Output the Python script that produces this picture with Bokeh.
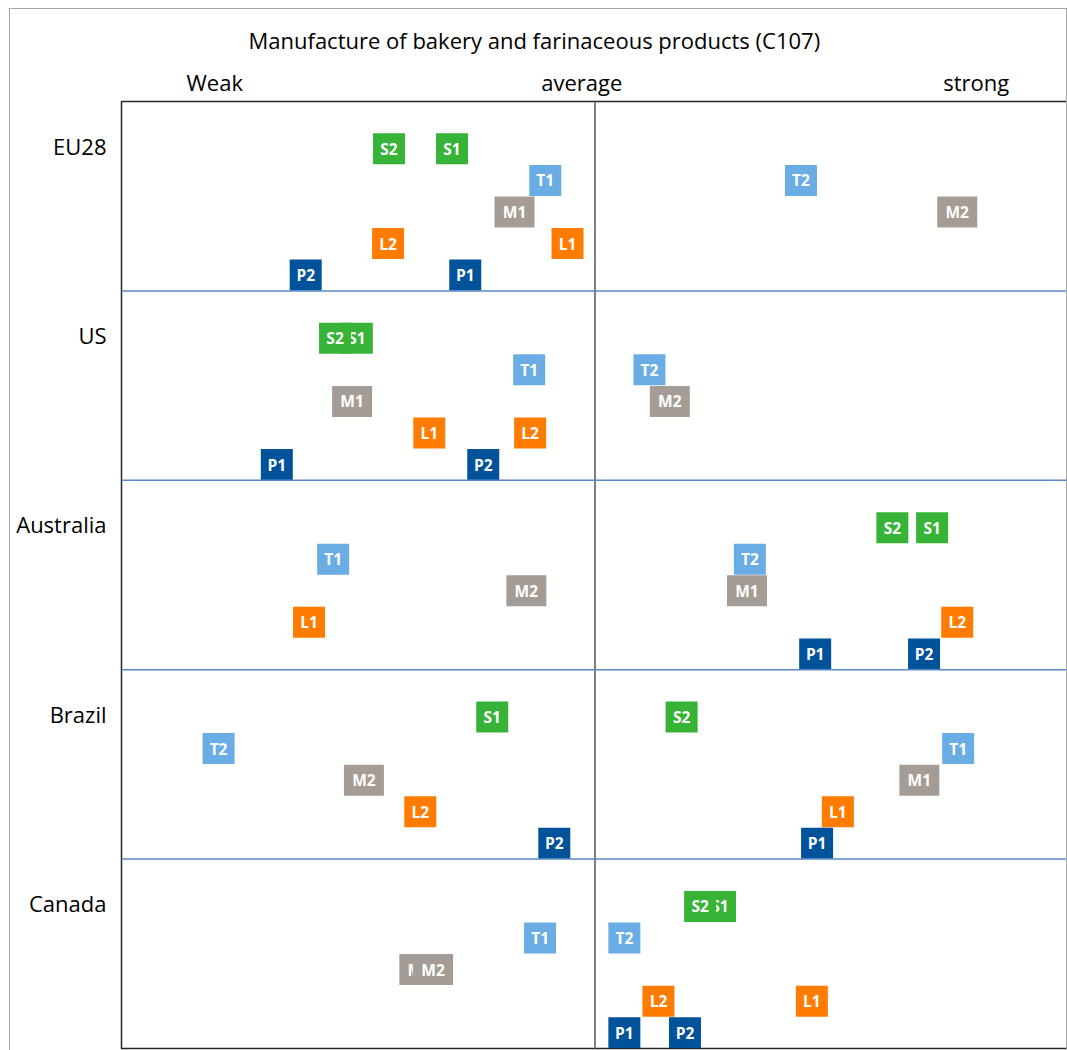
from bokeh.plotting import figure
from bokeh.models import Range1d, Span, ColumnDataSource, LinearAxis, FixedTicker
from bokeh.embed import file_html
from bokeh.resources import INLINE
from bokeh.core.properties import value

title_text = "Manufacture of bakery and farinaceous products (C107)"
countries = ["EU28", "US", "Australia", "Brazil", "Canada"]
levels = ["S", "T", "M", "L", "P"]
scale_labels = ["Weak", "average", "strong"]
scale_label_pos = [-0.803, -0.028, 0.805]

# position on weak (-1) .. average (0) .. strong (+1) scale, one per country
S1 = [-0.302, -0.503, 0.712, -0.217, 0.264]
S2 = [-0.435, -0.549, 0.628, 0.183, 0.222]
T1 = [-0.105, -0.139, -0.553, 0.767, -0.116]
T2 = [0.435, 0.115, 0.327, -0.795, 0.062]
M1 = [-0.170, -0.513, 0.321, 0.685, -0.371]
M2 = [0.765, 0.158, -0.145, -0.488, -0.342]
L1 = [-0.058, -0.350, -0.604, 0.513, 0.458]
L2 = [-0.437, -0.137, 0.765, -0.369, 0.134]
P1 = [-0.274, -0.672, 0.465, 0.469, 0.062]
P2 = [-0.611, -0.236, 0.695, -0.086, 0.190]

series = [("S1", S1), ("S2", S2), ("T1", T1), ("T2", T2), ("M1", M1), ("M2", M2),
          ("L1", L1), ("L2", L2), ("P1", P1), ("P2", P2)]
colors = {"S": "#37b337", "T": "#6aade4", "M": "#a59d95", "L": "#ff7c00", "P": "#00529b"}

ROW = 6  # data units per country row
font = "Open Sans"

p = figure(width=1058, height=1059, output_backend="svg", toolbar_location=None,
           x_range=Range1d(-1, 1), y_range=Range1d(len(countries) * ROW, 0),
           x_axis_location=None, y_axis_location=None,
           min_border_left=111, min_border_right=0, min_border_top=92, min_border_bottom=20)
p.styles = {"margin-left": "9px", "margin-top": "8px", "border": "1px solid #a6a6a6",
            "box-sizing": "border-box"}
p.xgrid.visible = False
p.ygrid.visible = False
p.outline_line_color = "#262626"
p.outline_line_width = 1.5
p.background_fill_color = "white"
p.border_fill_color = "white"

# country labels as a left axis
label_ticks = [ci * ROW + 1.4 for ci in range(len(countries))]
yax = LinearAxis(ticker=FixedTicker(ticks=label_ticks),
                 major_label_overrides={t: c for t, c in zip(label_ticks, countries)},
                 major_tick_in=0, major_tick_out=0, minor_tick_in=0, minor_tick_out=0,
                 axis_line_color=None, major_label_standoff=15,
                 major_label_text_font=font, major_label_text_font_size="22px",
                 major_label_text_color="black")
p.add_layout(yax, "left")

# weak / average / strong scale as a top axis
xax = LinearAxis(ticker=FixedTicker(ticks=scale_label_pos),
                 major_label_overrides={v: t for v, t in zip(scale_label_pos, scale_labels)},
                 major_tick_in=0, major_tick_out=0, minor_tick_in=0, minor_tick_out=0,
                 axis_line_color=None, major_label_standoff=5,
                 major_label_text_font=font, major_label_text_font_size="22px",
                 major_label_text_color="black")
p.add_layout(xax, "above")

p.title.text = title_text
p.title.align = "left"
p.title.offset = 127
p.title.text_font = font
p.title.text_font_size = "22px"
p.title.text_font_style = "normal"
p.title.text_color = "black"
p.title.standoff = 18

for i in range(1, len(countries)):
    p.add_layout(Span(location=i * ROW, dimension="width", line_color="#5a8ac6", line_width=1.5))
p.add_layout(Span(location=0, dimension="height", line_color="#7f7f7f", line_width=2))

for name, vals in series:
    lvl = levels.index(name[0])
    ys = [ci * ROW + 1.5 + lvl for ci in range(len(countries))]
    w = 40 if name[0] == "M" else 32
    src = ColumnDataSource(dict(x=vals, y=ys, t=[name] * len(vals)))
    p.rect("x", "y", width=w, height=31, width_units="screen", height_units="screen",
           source=src, fill_color=colors[name[0]], line_color=None)
    p.text("x", "y", text="t", source=src, text_color="white", text_font=value(font),
           text_font_style="bold", text_font_size="15.5px", text_align="center",
           text_baseline="middle")

open("out.html", "w").write(file_html(p, INLINE))
